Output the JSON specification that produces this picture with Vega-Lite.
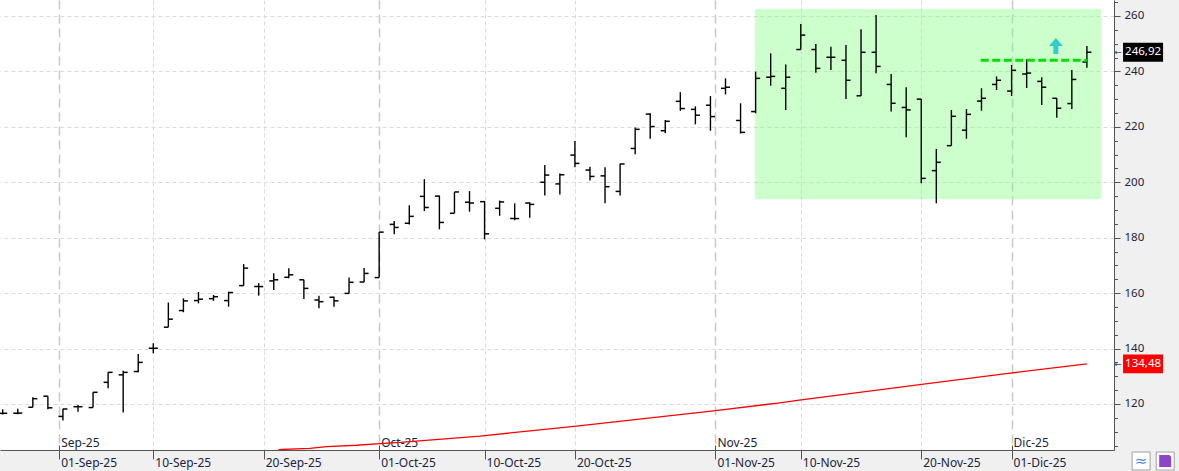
{
  "$schema": "https://vega.github.io/schema/vega-lite/v6.json",
  "width": 1114,
  "height": 450,
  "autosize": {"type": "none"},
  "padding": {"left": 0, "top": 0, "right": 65, "bottom": 21},
  "background": "#f0f0f0",
  "config": {
    "view": {"fill": "white", "stroke": null},
    "font": "Noto Sans",
    "axis": {"labelFont": "Noto Sans", "labelFontSize": 11, "labelColor": "#1a2340", "labelOverlap": false, "labelFlush": false, "labelBound": false}
  },
  "datasets": {
    "bars": [
      {"i": 0, "o": 116.6, "h": 118.1, "l": 116.2, "c": 116.6},
      {"i": 1, "o": 116.6, "h": 118.3, "l": 116.3, "c": 116.7},
      {"i": 2, "o": 118.8, "h": 122.4, "l": 118.8, "c": 121.9},
      {"i": 3, "o": 122.8, "h": 122.8, "l": 118.1, "c": 118.6},
      {"i": 4, "o": 115.5, "h": 118.3, "l": 114.0, "c": 118.2},
      {"i": 5, "o": 119.0, "h": 119.6, "l": 117.2, "c": 119.0},
      {"i": 6, "o": 118.7, "h": 124.2, "l": 118.7, "c": 124.2},
      {"i": 7, "o": 127.8, "h": 131.4, "l": 125.7, "c": 131.4},
      {"i": 8, "o": 130.5, "h": 132.0, "l": 116.9, "c": 131.4},
      {"i": 9, "o": 131.7, "h": 138.0, "l": 131.4, "c": 135.0},
      {"i": 10, "o": 140.1, "h": 141.9, "l": 138.3, "c": 140.1},
      {"i": 11, "o": 147.7, "h": 156.6, "l": 147.7, "c": 150.6},
      {"i": 12, "o": 153.7, "h": 158.1, "l": 153.1, "c": 157.2},
      {"i": 13, "o": 157.3, "h": 160.4, "l": 156.3, "c": 157.8},
      {"i": 14, "o": 158.0, "h": 159.3, "l": 157.2, "c": 158.7},
      {"i": 15, "o": 157.3, "h": 160.5, "l": 155.1, "c": 160.2},
      {"i": 16, "o": 162.7, "h": 170.5, "l": 162.7, "c": 169.0},
      {"i": 17, "o": 162.35, "h": 163.6, "l": 159.1, "c": 162.35},
      {"i": 18, "o": 164.4, "h": 167.2, "l": 161.1, "c": 164.8},
      {"i": 19, "o": 165.7, "h": 169.0, "l": 165.4, "c": 166.6},
      {"i": 20, "o": 164.8, "h": 164.8, "l": 157.9, "c": 161.7},
      {"i": 21, "o": 157.5, "h": 159.0, "l": 154.5, "c": 156.9},
      {"i": 22, "o": 158.5, "h": 158.7, "l": 155.1, "c": 157.2},
      {"i": 23, "o": 159.9, "h": 165.6, "l": 159.9, "c": 163.9},
      {"i": 24, "o": 164.0, "h": 169.1, "l": 164.0, "c": 167.1},
      {"i": 25, "o": 165.6, "h": 182.0, "l": 165.6, "c": 182.0},
      {"i": 26, "o": 184.8, "h": 186.0, "l": 181.2, "c": 183.7},
      {"i": 27, "o": 185.2, "h": 191.7, "l": 184.8, "c": 187.7},
      {"i": 28, "o": 194.9, "h": 201.1, "l": 189.6, "c": 190.9},
      {"i": 29, "o": 195.0, "h": 195.2, "l": 183.0, "c": 185.5},
      {"i": 30, "o": 188.8, "h": 196.5, "l": 188.8, "c": 196.5},
      {"i": 31, "o": 192.8, "h": 196.8, "l": 189.4, "c": 192.5},
      {"i": 32, "o": 193.0, "h": 193.2, "l": 179.4, "c": 181.4},
      {"i": 33, "o": 190.6, "h": 193.4, "l": 187.9, "c": 192.9},
      {"i": 34, "o": 186.9, "h": 192.4, "l": 186.3, "c": 186.9},
      {"i": 35, "o": 192.5, "h": 192.8, "l": 187.2, "c": 192.0},
      {"i": 36, "o": 200.0, "h": 206.2, "l": 195.2, "c": 202.6},
      {"i": 37, "o": 199.4, "h": 203.2, "l": 195.6, "c": 202.7},
      {"i": 38, "o": 209.8, "h": 214.9, "l": 205.4, "c": 206.8},
      {"i": 39, "o": 204.4, "h": 205.6, "l": 200.6, "c": 202.1},
      {"i": 40, "o": 202.3, "h": 205.4, "l": 192.4, "c": 198.4},
      {"i": 41, "o": 196.7, "h": 206.7, "l": 195.2, "c": 206.6},
      {"i": 42, "o": 212.2, "h": 219.8, "l": 210.1, "c": 219.1},
      {"i": 43, "o": 224.6, "h": 224.9, "l": 215.7, "c": 220.1},
      {"i": 44, "o": 218.6, "h": 222.5, "l": 217.7, "c": 222.0},
      {"i": 45, "o": 229.2, "h": 232.5, "l": 225.8, "c": 226.6},
      {"i": 46, "o": 226.3, "h": 227.4, "l": 220.9, "c": 224.2},
      {"i": 47, "o": 227.8, "h": 231.1, "l": 218.6, "c": 223.7},
      {"i": 48, "o": 233.9, "h": 237.5, "l": 231.7, "c": 234.3},
      {"i": 49, "o": 222.3, "h": 228.5, "l": 217.6, "c": 218.0},
      {"i": 50, "o": 225.5, "h": 239.9, "l": 224.9, "c": 237.5},
      {"i": 51, "o": 237.9, "h": 246.5, "l": 234.85, "c": 238.2},
      {"i": 52, "o": 233.9, "h": 242.5, "l": 226.1, "c": 237.9},
      {"i": 53, "o": 247.9, "h": 257.1, "l": 247.9, "c": 253.1},
      {"i": 54, "o": 247.9, "h": 249.9, "l": 239.5, "c": 241.1},
      {"i": 55, "o": 245.1, "h": 248.9, "l": 240.5, "c": 245.1},
      {"i": 56, "o": 244.0, "h": 249.5, "l": 230.0, "c": 236.8},
      {"i": 57, "o": 231.2, "h": 255.2, "l": 231.1, "c": 246.9},
      {"i": 58, "o": 246.9, "h": 260.4, "l": 239.3, "c": 241.8},
      {"i": 59, "o": 235.3, "h": 239.1, "l": 225.5, "c": 228.5},
      {"i": 60, "o": 227.0, "h": 234.3, "l": 216.2, "c": 226.1},
      {"i": 61, "o": 230.0, "h": 230.0, "l": 199.6, "c": 201.4},
      {"i": 62, "o": 204.2, "h": 212.0, "l": 192.4, "c": 207.2},
      {"i": 63, "o": 213.2, "h": 226.1, "l": 213.2, "c": 223.8},
      {"i": 64, "o": 218.8, "h": 226.4, "l": 215.7, "c": 224.5},
      {"i": 65, "o": 229.3, "h": 233.9, "l": 225.8, "c": 230.3},
      {"i": 66, "o": 235.3, "h": 238.2, "l": 233.3, "c": 236.8},
      {"i": 67, "o": 232.9, "h": 242.3, "l": 231.1, "c": 240.4},
      {"i": 68, "o": 239.1, "h": 244.4, "l": 234.0, "c": 239.4},
      {"i": 69, "o": 236.4, "h": 237.9, "l": 227.9, "c": 234.3},
      {"i": 70, "o": 230.3, "h": 230.3, "l": 223.3, "c": 226.7},
      {"i": 71, "o": 228.4, "h": 240.5, "l": 226.4, "c": 237.1},
      {"i": 72, "o": 243.4, "h": 249.2, "l": 241.3, "c": 246.92}
    ],
    "ma": [
      {"i": 18.3, "v": 103.45},
      {"i": 18.53, "v": 103.57},
      {"i": 20.4, "v": 104.0},
      {"i": 21.5, "v": 104.6},
      {"i": 23.5, "v": 105.1},
      {"i": 25.05, "v": 105.7},
      {"i": 26.4, "v": 106.1},
      {"i": 31.7, "v": 108.4},
      {"i": 38.1, "v": 112.0},
      {"i": 47.2, "v": 117.5},
      {"i": 51.6, "v": 120.4},
      {"i": 52.9, "v": 121.4},
      {"i": 60.9, "v": 127.0},
      {"i": 66.9, "v": 131.1},
      {"i": 72, "v": 134.48}
    ],
    "zone": [{"i1": 49.95, "i2": 72.97, "lo": 193.9, "hi": 262.5}],
    "level": [{"i1": 64.95, "i2": 72, "v": 244.0}],
    "signal": [{"i": 69.94, "v": 249.2}],
    "lastvals": [
      {"s": "last", "v": 246.92, "label": "246,92"},
      {"s": "ma", "v": 134.48, "label": "134,48"}
    ],
    "buttons": [
      {"b": "chart", "i": 75.6, "v": 99.4},
      {"b": "save", "i": 77.2, "v": 99.4}
    ]
  },
  "layer": [
    {
      "data": {"name": "zone"},
      "mark": {"type": "rect", "color": "#80ff80", "opacity": 0.4},
      "encoding": {
        "x": {
          "field": "i1", "type": "quantitative",
          "scale": {"domain": [-0.18, 73.8], "nice": false, "zero": false},
          "axis": {
            "orient": "bottom",
            "title": null,
            "values": [3.75, 10, 17.333, 25, 32, 38, 47.333, 53, 61, 67],
            "labelExpr": "datum.value < 5 ? '01-Sep-25' : datum.value < 12 ? '10-Sep-25' : datum.value < 20 ? '20-Sep-25' : datum.value < 28 ? '01-Oct-25' : datum.value < 35 ? '10-Oct-25' : datum.value < 42 ? '20-Oct-25' : datum.value < 50 ? '01-Nov-25' : datum.value < 57 ? '10-Nov-25' : datum.value < 64 ? '20-Nov-25' : '01-Dic-25'",
            "grid": true,
            "gridColor": {"condition": {"test": "datum.value === 3.75 || datum.value === 25 || datum.value === 47.333 || datum.value === 67", "value": "#c8c8c8"}, "value": "#dadada"},
            "gridDash": {"condition": {"test": "datum.value === 3.75 || datum.value === 25 || datum.value === 47.333 || datum.value === 67", "value": [9, 5]}, "value": [4, 3]},
            "gridWidth": {"condition": {"test": "datum.value === 3.75 || datum.value === 25 || datum.value === 47.333 || datum.value === 67", "value": 1.5}, "value": 1},
            "domain": true, "domainColor": "#555555", "domainWidth": 1,
            "ticks": true, "tickSize": 9, "tickColor": "#555555", "tickWidth": 1,
            "labelFontSize": 12,
            "labelAlign": "left", "labelBaseline": "middle", "labelPadding": 3, "labelOffset": 1.5
          }
        },
        "x2": {"field": "i2"},
        "y": {
          "field": "lo", "type": "quantitative",
          "scale": {"domain": [103.38, 265.77], "nice": false, "zero": false},
          "axis": {
            "orient": "right",
            "title": null,
            "values": [120, 140, 160, 180, 200, 220, 240, 260],
            "grid": true,
            "gridColor": "#dadada",
            "gridDash": [4, 3],
            "domain": true, "domainColor": "#555555", "domainWidth": 1,
            "ticks": true, "tickColor": "#555555", "tickWidth": 1, "tickSize": 6,
            "labelFontSize": 11.5,
            "labelPadding": 4, "labelBaseline": "middle", "labelAlign": "left"
          }
        },
        "y2": {"field": "hi"}
      }
    },
    {
      "data": {"name": "ma"},
      "mark": {"type": "line", "color": "#ff0000", "strokeWidth": 1.3, "clip": true},
      "encoding": {
        "x": {
          "field": "i", "type": "quantitative",
          "axis": {
            "orient": "bottom",
            "title": null,
            "values": [3.75, 25, 47.333, 67],
            "labelExpr": "datum.value < 10 ? 'Sep-25' : datum.value < 30 ? 'Oct-25' : datum.value < 50 ? 'Nov-25' : 'Dic-25'",
            "grid": false,
            "domain": false,
            "ticks": true, "tickSize": -5, "tickColor": "#555555", "tickWidth": 1,
            "labelFontSize": 12,
            "labelAlign": "left", "labelBaseline": "middle", "labelPadding": -3, "labelOffset": 1.5
          }
        },
        "y": {
          "field": "v", "type": "quantitative",
          "axis": {
            "orient": "right",
            "title": null,
            "values": [105, 110, 115, 125, 130, 135, 145, 150, 155, 165, 170, 175, 185, 190, 195, 205, 210, 215, 225, 230, 235, 245, 250, 255, 265],
            "labels": false,
            "grid": false,
            "domain": false,
            "ticks": true, "tickColor": "#555555", "tickWidth": 1, "tickSize": 3.5
          }
        }
      }
    },
    {
      "data": {"name": "bars"},
      "mark": {"type": "rule", "color": "#000000", "strokeWidth": 1.4},
      "encoding": {
        "x": {"field": "i", "type": "quantitative", "axis": null},
        "y": {"field": "l", "type": "quantitative", "axis": null},
        "y2": {"field": "h"}
      }
    },
    {
      "data": {"name": "bars"},
      "mark": {"type": "tick", "orient": "horizontal", "color": "#000000", "size": 4.5, "thickness": 1.5, "xOffset": -2.25, "opacity": 1},
      "encoding": {
        "x": {"field": "i", "type": "quantitative", "axis": null},
        "y": {"field": "o", "type": "quantitative", "axis": null}
      }
    },
    {
      "data": {"name": "bars"},
      "mark": {"type": "tick", "orient": "horizontal", "color": "#000000", "size": 4.5, "thickness": 1.5, "xOffset": 2.25, "opacity": 1},
      "encoding": {
        "x": {"field": "i", "type": "quantitative", "axis": null},
        "y": {"field": "c", "type": "quantitative", "axis": null}
      }
    },
    {
      "data": {"name": "level"},
      "mark": {"type": "rule", "color": "#00e000", "strokeWidth": 3, "strokeDash": [8, 3.5]},
      "encoding": {
        "x": {"field": "i1", "type": "quantitative", "axis": null},
        "x2": {"field": "i2"},
        "y": {"field": "v", "type": "quantitative", "axis": null}
      }
    },
    {
      "data": {"name": "signal"},
      "mark": {"type": "point", "shape": "M0,-1.14L1,0L0.36,0L0.36,1.14L-0.36,1.14L-0.36,0L-1,0Z", "size": 196, "filled": true, "color": "#33cccc", "opacity": 1, "strokeWidth": 0},
      "encoding": {
        "x": {"field": "i", "type": "quantitative", "axis": null},
        "y": {"field": "v", "type": "quantitative", "axis": null}
      }
    },
    {
      "data": {"name": "lastvals"},
      "mark": {"type": "point", "shape": "M-1,-0.47L1,-0.47L1,0.47L-1,0.47Z", "size": 1600, "filled": true, "opacity": 1, "strokeWidth": 0},
      "encoding": {
        "x": {"datum": 75.73, "type": "quantitative", "axis": null},
        "y": {"field": "v", "type": "quantitative", "axis": null},
        "color": {"field": "s", "type": "nominal", "scale": {"domain": ["last", "ma"], "range": ["#000000", "#ff0000"]}, "legend": null}
      }
    },
    {
      "data": {"name": "lastvals"},
      "mark": {"type": "text", "color": "#ffffff", "fontSize": 11.5, "font": "Noto Sans", "align": "center", "baseline": "middle"},
      "encoding": {
        "x": {"datum": 75.73, "type": "quantitative", "axis": null},
        "y": {"field": "v", "type": "quantitative", "axis": null},
        "text": {"field": "label"}
      }
    },
    {
      "data": {"name": "lastvals"},
      "mark": {"type": "text", "text": "←", "color": "#444444", "fontSize": 9, "font": "DejaVu Sans", "align": "center", "baseline": "middle"},
      "encoding": {
        "x": {"datum": 74.07, "type": "quantitative", "axis": null},
        "y": {"field": "v", "type": "quantitative", "axis": null}
      }
    },
    {
      "data": {"name": "buttons"},
      "mark": {"type": "point", "shape": "square", "size": 324, "filled": true, "color": "#ffffff", "stroke": "#a0a0a0", "strokeWidth": 1, "opacity": 1, "clip": false},
      "encoding": {
        "x": {"field": "i", "type": "quantitative", "axis": null},
        "y": {"field": "v", "type": "quantitative", "axis": null}
      }
    },
    {
      "data": {"name": "buttons"},
      "transform": [{"filter": "datum.b === 'chart'"}],
      "mark": {"type": "text", "text": "≈", "color": "#4a90d9", "fontSize": 15, "font": "DejaVu Sans", "align": "center", "baseline": "middle"},
      "encoding": {
        "x": {"field": "i", "type": "quantitative", "axis": null},
        "y": {"field": "v", "type": "quantitative", "axis": null}
      }
    },
    {
      "data": {"name": "buttons"},
      "transform": [{"filter": "datum.b === 'save'"}],
      "mark": {"type": "point", "shape": "M-1,-1L0.7,-1L1,-0.7L1,1L-1,1Z", "size": 144, "filled": true, "color": "#8e44c8", "opacity": 1, "strokeWidth": 0},
      "encoding": {
        "x": {"field": "i", "type": "quantitative", "axis": null},
        "y": {"field": "v", "type": "quantitative", "axis": null}
      }
    }
  ],
  "resolve": {"axis": {"x": "independent", "y": "independent"}}
}
